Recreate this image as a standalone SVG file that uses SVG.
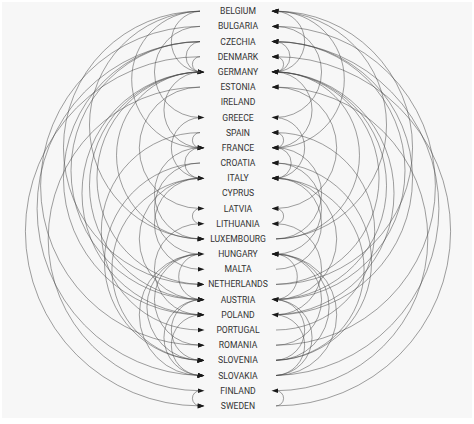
<svg xmlns="http://www.w3.org/2000/svg" width="474" height="424" viewBox="0 0 474 424">
<style>
.lbl{font-family:Roboto,"Liberation Sans",sans-serif;font-size:8.6px;fill:#333;text-anchor:middle}
.arc{fill:none;stroke:#444;stroke-opacity:0.6;stroke-width:0.85}
.l{marker-end:url(#ahR)}
.r{marker-end:url(#ahL)}
</style>
<defs>
<marker id="ahR" viewBox="0 0 7 6" refX="2.5" refY="3" markerWidth="7" markerHeight="6" markerUnits="userSpaceOnUse" orient="auto"><path d="M0,0.5 L7,3 L0,5.5z" fill="#1a1a1a"/></marker>
<marker id="ahL" viewBox="0 0 7 6" refX="2.5" refY="3" markerWidth="7" markerHeight="6" markerUnits="userSpaceOnUse" orient="auto"><path d="M0,0.5 L7,3 L0,5.5z" fill="#1a1a1a"/></marker>
</defs>
<rect x="0" y="0" width="474" height="424" fill="#ffffff"/>
<rect x="2" y="2" width="470" height="416" fill="#f7f7f7"/>
<g id="connectors">
<path class="arc l" d="M200,11.2 A30.4 30.4 0 0 0 200,71.9"/>
<path class="arc l" d="M200,11.2 A68.3 68.3 0 0 0 200,147.8"/>
<path class="arc l" d="M200,11.2 A113.9 113.9 0 0 0 200,238.9"/>
<path class="arc l" d="M200,11.2 A136.6 136.6 0 0 0 200,284.4"/>
<path class="arc l" d="M200,26.4 A45.5 45.5 0 0 0 200,117.5"/>
<path class="arc l" d="M200,26.4 A159.4 159.4 0 0 0 200,345.2"/>
<path class="arc l" d="M200,41.6 A15.2 15.2 0 0 0 200,71.9"/>
<path class="arc l" d="M200,41.6 A129 129 0 0 0 200,299.6"/>
<path class="arc l" d="M200,41.6 A136.6 136.6 0 0 0 200,314.8"/>
<path class="arc l" d="M200,41.6 A167 167 0 0 0 200,375.5"/>
<path class="arc l" d="M200,56.7 A7.6 7.6 0 0 0 200,71.9"/>
<path class="arc l" d="M200,56.7 A174.6 174.6 0 0 0 200,405.9"/>
<path class="arc l" d="M200,71.9 A38 38 0 0 0 200,147.8"/>
<path class="arc l" d="M200,71.9 A83.5 83.5 0 0 0 200,238.9"/>
<path class="arc l" d="M200,71.9 A106.3 106.3 0 0 0 200,284.4"/>
<path class="arc l" d="M200,71.9 A113.9 113.9 0 0 0 200,299.6"/>
<path class="arc l" d="M200,71.9 A121.5 121.5 0 0 0 200,314.8"/>
<path class="arc l" d="M200,87.1 A60.7 60.7 0 0 0 200,208.5"/>
<path class="arc l" d="M200,87.1 A151.8 151.8 0 0 0 200,390.7"/>
<path class="arc l" d="M200,117.5 A30.4 30.4 0 0 0 200,178.2"/>
<path class="arc l" d="M200,132.6 A7.6 7.6 0 0 0 200,147.8"/>
<path class="arc l" d="M200,132.6 A98.7 98.7 0 0 0 200,330"/>
<path class="arc l" d="M200,147.8 A15.2 15.2 0 0 0 200,178.2"/>
<path class="arc l" d="M200,147.8 A45.5 45.5 0 0 0 200,238.9"/>
<path class="arc l" d="M200,163 A45.5 45.5 0 0 0 200,254.1"/>
<path class="arc l" d="M200,163 A98.7 98.7 0 0 0 200,360.3"/>
<path class="arc l" d="M200,178.2 A60.7 60.7 0 0 0 200,299.6"/>
<path class="arc l" d="M200,178.2 A91.1 91.1 0 0 0 200,360.3"/>
<path class="arc l" d="M200,178.2 A45.5 45.5 0 0 0 200,269.3"/>
<path class="arc l" d="M200,208.5 A7.6 7.6 0 0 0 200,223.7"/>
<path class="arc l" d="M200,223.7 A45.5 45.5 0 0 0 200,314.8"/>
<path class="arc l" d="M200,254.1 A22.8 22.8 0 0 0 200,299.6"/>
<path class="arc l" d="M200,254.1 A45.5 45.5 0 0 0 200,345.2"/>
<path class="arc l" d="M200,254.1 A53.1 53.1 0 0 0 200,360.3"/>
<path class="arc l" d="M200,254.1 A60.7 60.7 0 0 0 200,375.5"/>
<path class="arc l" d="M200,299.6 A30.4 30.4 0 0 0 200,360.3"/>
<path class="arc l" d="M200,299.6 A38 38 0 0 0 200,375.5"/>
<path class="arc l" d="M200,314.8 A30.4 30.4 0 0 0 200,375.5"/>
<path class="arc l" d="M200,390.7 A7.6 7.6 0 0 0 200,405.9"/>
<path class="arc r" d="M276,71.9 A30.4 30.4 0 0 0 276,11.2"/>
<path class="arc r" d="M276,147.8 A68.3 68.3 0 0 0 276,11.2"/>
<path class="arc r" d="M276,238.9 A113.9 113.9 0 0 0 276,11.2"/>
<path class="arc r" d="M276,284.4 A136.6 136.6 0 0 0 276,11.2"/>
<path class="arc r" d="M276,117.5 A45.5 45.5 0 0 0 276,26.4"/>
<path class="arc r" d="M276,345.2 A159.4 159.4 0 0 0 276,26.4"/>
<path class="arc r" d="M276,71.9 A15.2 15.2 0 0 0 276,41.6"/>
<path class="arc r" d="M276,299.6 A129 129 0 0 0 276,41.6"/>
<path class="arc r" d="M276,314.8 A136.6 136.6 0 0 0 276,41.6"/>
<path class="arc r" d="M276,375.5 A167 167 0 0 0 276,41.6"/>
<path class="arc r" d="M276,71.9 A7.6 7.6 0 0 0 276,56.7"/>
<path class="arc r" d="M276,405.9 A174.6 174.6 0 0 0 276,56.7"/>
<path class="arc r" d="M276,147.8 A38 38 0 0 0 276,71.9"/>
<path class="arc r" d="M276,238.9 A83.5 83.5 0 0 0 276,71.9"/>
<path class="arc r" d="M276,284.4 A106.3 106.3 0 0 0 276,71.9"/>
<path class="arc r" d="M276,299.6 A113.9 113.9 0 0 0 276,71.9"/>
<path class="arc r" d="M276,314.8 A121.5 121.5 0 0 0 276,71.9"/>
<path class="arc r" d="M276,208.5 A60.7 60.7 0 0 0 276,87.1"/>
<path class="arc r" d="M276,390.7 A151.8 151.8 0 0 0 276,87.1"/>
<path class="arc r" d="M276,178.2 A30.4 30.4 0 0 0 276,117.5"/>
<path class="arc r" d="M276,147.8 A7.6 7.6 0 0 0 276,132.6"/>
<path class="arc r" d="M276,330 A98.7 98.7 0 0 0 276,132.6"/>
<path class="arc r" d="M276,178.2 A15.2 15.2 0 0 0 276,147.8"/>
<path class="arc r" d="M276,238.9 A45.5 45.5 0 0 0 276,147.8"/>
<path class="arc r" d="M276,254.1 A45.5 45.5 0 0 0 276,163"/>
<path class="arc r" d="M276,360.3 A98.7 98.7 0 0 0 276,163"/>
<path class="arc r" d="M276,299.6 A60.7 60.7 0 0 0 276,178.2"/>
<path class="arc r" d="M276,360.3 A91.1 91.1 0 0 0 276,178.2"/>
<path class="arc r" d="M276,269.3 A45.5 45.5 0 0 0 276,178.2"/>
<path class="arc r" d="M276,223.7 A7.6 7.6 0 0 0 276,208.5"/>
<path class="arc r" d="M276,314.8 A45.5 45.5 0 0 0 276,223.7"/>
<path class="arc r" d="M276,299.6 A22.8 22.8 0 0 0 276,254.1"/>
<path class="arc r" d="M276,345.2 A45.5 45.5 0 0 0 276,254.1"/>
<path class="arc r" d="M276,360.3 A53.1 53.1 0 0 0 276,254.1"/>
<path class="arc r" d="M276,375.5 A60.7 60.7 0 0 0 276,254.1"/>
<path class="arc r" d="M276,360.3 A30.4 30.4 0 0 0 276,299.6"/>
<path class="arc r" d="M276,375.5 A38 38 0 0 0 276,299.6"/>
<path class="arc r" d="M276,375.5 A30.4 30.4 0 0 0 276,314.8"/>
<path class="arc r" d="M276,405.9 A7.6 7.6 0 0 0 276,390.7"/>
</g>
<g id="n-belgium"><text class="lbl" x="238" y="14.2">BELGIUM</text></g>
<g id="n-bulgaria"><text class="lbl" x="238" y="29.4">BULGARIA</text></g>
<g id="n-czechia"><text class="lbl" x="238" y="44.6">CZECHIA</text></g>
<g id="n-denmark"><text class="lbl" x="238" y="59.7">DENMARK</text></g>
<g id="n-germany"><text class="lbl" x="238" y="74.9">GERMANY</text></g>
<g id="n-estonia"><text class="lbl" x="238" y="90.1">ESTONIA</text></g>
<g id="n-ireland"><text class="lbl" x="238" y="105.3">IRELAND</text></g>
<g id="n-greece"><text class="lbl" x="238" y="120.5">GREECE</text></g>
<g id="n-spain"><text class="lbl" x="238" y="135.6">SPAIN</text></g>
<g id="n-france"><text class="lbl" x="238" y="150.8">FRANCE</text></g>
<g id="n-croatia"><text class="lbl" x="238" y="166">CROATIA</text></g>
<g id="n-italy"><text class="lbl" x="238" y="181.2">ITALY</text></g>
<g id="n-cyprus"><text class="lbl" x="238" y="196.4">CYPRUS</text></g>
<g id="n-latvia"><text class="lbl" x="238" y="211.5">LATVIA</text></g>
<g id="n-lithuania"><text class="lbl" x="238" y="226.7">LITHUANIA</text></g>
<g id="n-luxembourg"><text class="lbl" x="238" y="241.9">LUXEMBOURG</text></g>
<g id="n-hungary"><text class="lbl" x="238" y="257.1">HUNGARY</text></g>
<g id="n-malta"><text class="lbl" x="238" y="272.3">MALTA</text></g>
<g id="n-netherlands"><text class="lbl" x="238" y="287.4">NETHERLANDS</text></g>
<g id="n-austria"><text class="lbl" x="238" y="302.6">AUSTRIA</text></g>
<g id="n-poland"><text class="lbl" x="238" y="317.8">POLAND</text></g>
<g id="n-portugal"><text class="lbl" x="238" y="333">PORTUGAL</text></g>
<g id="n-romania"><text class="lbl" x="238" y="348.2">ROMANIA</text></g>
<g id="n-slovenia"><text class="lbl" x="238" y="363.3">SLOVENIA</text></g>
<g id="n-slovakia"><text class="lbl" x="238" y="378.5">SLOVAKIA</text></g>
<g id="n-finland"><text class="lbl" x="238" y="393.7">FINLAND</text></g>
<g id="n-sweden"><text class="lbl" x="238" y="408.9">SWEDEN</text></g>
</svg>
